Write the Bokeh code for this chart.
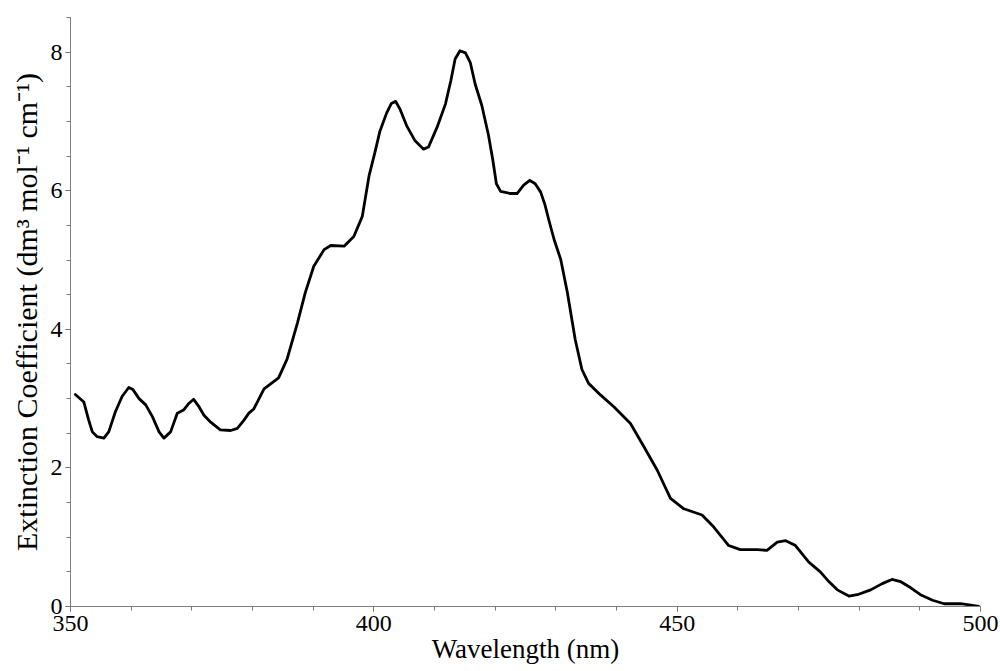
from bokeh.plotting import figure
from bokeh.models import SingleIntervalTicker, Range1d
from bokeh.embed import file_html
from bokeh.resources import INLINE

wavelength = [350.8, 352.2, 353.0, 353.6, 354.4, 355.5, 356.3, 357.4, 358.5, 359.6,
              360.3, 361.3, 362.4, 363.5, 364.6, 365.4, 366.5, 367.6, 368.7, 369.5,
              370.3, 371.2, 372.0, 373.1, 374.7, 376.4, 377.5, 378.6, 379.4, 380.2,
              381.9, 384.3, 385.7, 387.4, 388.7, 390.1, 391.8, 392.9, 395.1, 396.7,
              398.1, 399.2, 400.2, 401.0, 402.1, 402.9, 403.6, 404.3, 405.4, 406.8,
              408.2, 409.0, 410.4, 411.8, 412.7, 413.4, 414.2, 415.1, 415.9, 416.7,
              417.8, 418.9, 419.6, 420.2, 420.9, 422.5, 423.6, 424.7, 425.7, 426.6,
              427.5, 428.2, 428.9, 429.7, 430.8, 431.9, 433.2, 434.3, 435.4, 437.4,
              439.6, 442.3, 444.5, 446.7, 448.9, 451.1, 454.1, 456.0, 458.5, 460.4,
              463.2, 464.8, 466.5, 467.9, 469.5, 471.7, 473.6, 475.0, 476.4, 478.3,
              479.7, 481.9, 483.8, 485.4, 486.8, 488.5, 490.1, 492.1, 494.0, 496.7,
              498.4, 499.7]
extinction = [3.06, 2.95, 2.69, 2.52, 2.45, 2.43, 2.52, 2.81, 3.03, 3.16,
              3.13, 3.00, 2.91, 2.74, 2.52, 2.43, 2.52, 2.79, 2.84, 2.93,
              2.99, 2.88, 2.76, 2.66, 2.55, 2.54, 2.57, 2.69, 2.79, 2.85,
              3.14, 3.30, 3.57, 4.09, 4.53, 4.91, 5.15, 5.21, 5.20, 5.34,
              5.63, 6.21, 6.56, 6.86, 7.12, 7.26, 7.29, 7.18, 6.94, 6.72,
              6.60, 6.63, 6.91, 7.25, 7.59, 7.90, 8.02, 7.99, 7.85, 7.54,
              7.23, 6.80, 6.45, 6.10, 5.99, 5.96, 5.96, 6.08, 6.15, 6.10,
              5.98, 5.80, 5.56, 5.30, 5.01, 4.53, 3.85, 3.42, 3.22, 3.05,
              2.88, 2.64, 2.31, 1.97, 1.56, 1.41, 1.32, 1.15, 0.88, 0.82,
              0.82, 0.81, 0.93, 0.95, 0.88, 0.64, 0.50, 0.36, 0.24, 0.15,
              0.17, 0.24, 0.33, 0.39, 0.36, 0.27, 0.17, 0.09, 0.04, 0.04,
              0.02, 0.0]

x_label = "Wavelength (nm)"
y_label = "Extinction Coefficient (dm\u00b3 mol\u207b\u00b9 cm\u207b\u00b9)"

p = figure(width=1000, height=671, output_backend="svg", toolbar_location=None,
           x_range=Range1d(350, 500), y_range=Range1d(0, 8.5),
           min_border_left=70, min_border_right=20, min_border_top=17,
           min_border_bottom=65)
p.outline_line_color = None
p.xgrid.visible = False
p.ygrid.visible = False
p.background_fill_color = "white"
p.border_fill_color = "white"

p.line(wavelength, extinction, line_color="black", line_width=2.8,
       line_join="round", line_cap="round")

FONT = "Liberation Serif"

p.xaxis.ticker = SingleIntervalTicker(interval=50, num_minor_ticks=5)
p.yaxis.ticker = SingleIntervalTicker(interval=2, num_minor_ticks=4)

for ax in (p.xaxis[0], p.yaxis[0]):
    ax.axis_line_color = "#808080"
    ax.axis_line_width = 1
    ax.major_tick_line_color = "#555555"
    ax.minor_tick_line_color = "#777777"
    ax.major_tick_in = 0
    ax.minor_tick_in = 0
    ax.major_tick_out = 5
    ax.minor_tick_out = 4
    ax.major_label_text_font = FONT
    ax.major_label_text_font_size = "24px"
    ax.major_label_text_color = "black"
    ax.axis_label_text_font = FONT
    ax.axis_label_text_font_style = "normal"
    ax.axis_label_text_color = "black"

p.xaxis.axis_label = x_label
p.yaxis.axis_label = y_label
p.xaxis.axis_label_text_font_size = "27px"
p.yaxis.axis_label_text_font_size = "30px"
p.xaxis.major_label_standoff = 4
p.xaxis.axis_label_standoff = 0
p.yaxis.major_label_standoff = 3
p.yaxis.axis_label_standoff = 5

open("out.html", "w").write(file_html(p, INLINE))
